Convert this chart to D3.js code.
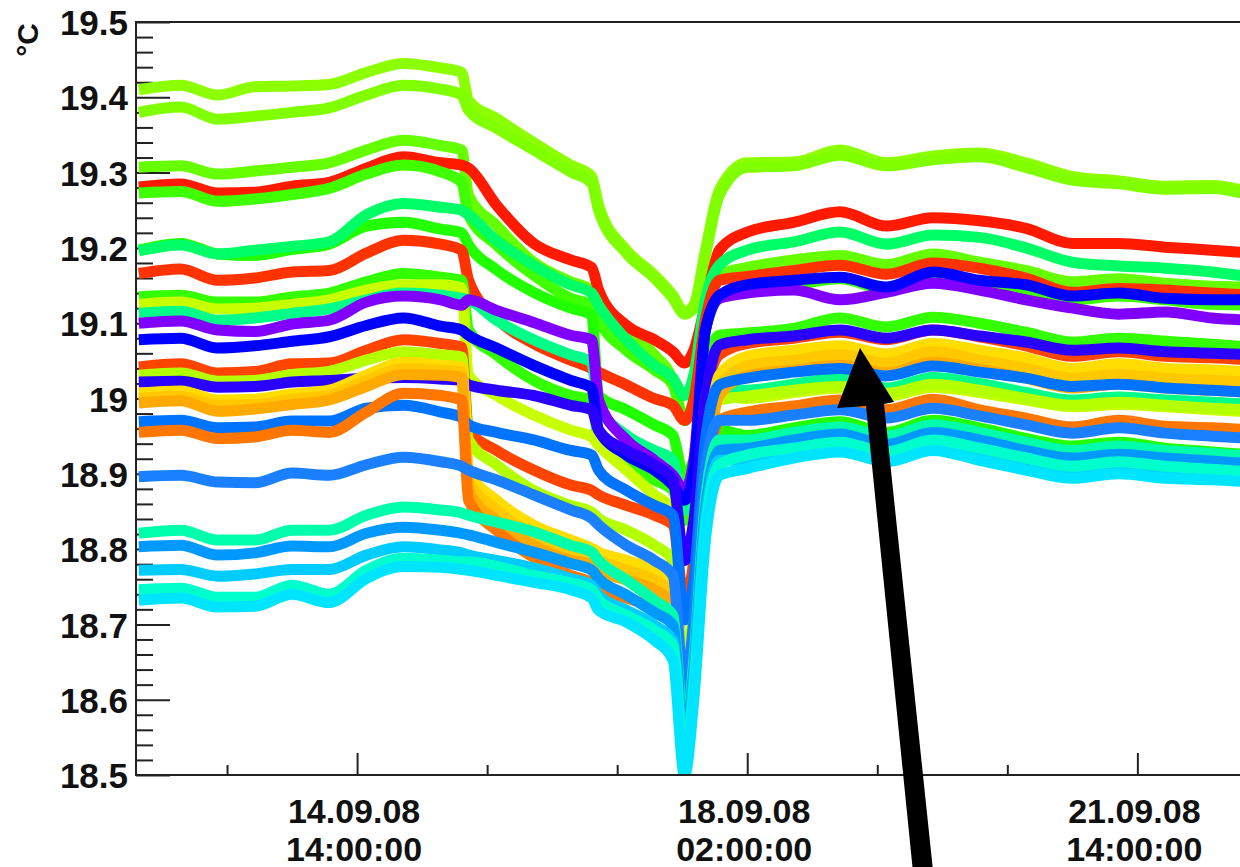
<!DOCTYPE html>
<html>
<head>
<meta charset="utf-8">
<script src="https://cdn.jsdelivr.net/npm/d3@7"></script>
<style>
body { margin: 0; background: #fff; }
svg { display: block; font-family: "Liberation Sans", Arial, sans-serif; font-weight: bold; }
</style>
</head>
<body>
<div id="chart"></div>
<script>
// hours after 14.09.08 14:00:00
var hours = [-47, -38, -30, -22, -14, -6, 2, 10, 18, 22.5,
    24, 30, 38, 46, 50.5, 52, 58, 64, 68, 70.5, 72.5, 75, 78,
    84, 94, 104, 114, 124, 134, 144, 154, 164, 174, 184, 193]

// temperature sensors, degrees C
var lime1 = [19.410,19.416,19.403,19.414,19.415,19.417,19.433,19.445,19.439,19.433, 19.396,19.372,19.340,19.310,19.295,19.257,19.197,19.164,19.137,19.115,19.124,19.197,19.277, 19.313,19.314,19.330,19.313,19.322,19.326,19.313,19.295,19.289,19.282,19.283,19.273]
var lime2 = [19.380,19.387,19.371,19.375,19.380,19.386,19.403,19.416,19.411,19.403, 19.383,19.359,19.330,19.301,19.286,19.250,19.193,19.160,19.133,19.112,19.120,19.190,19.270, 19.307,19.309,19.323,19.309,19.317,19.321,19.307,19.290,19.285,19.278,19.279,19.269]
var green66 = [19.307,19.309,19.298,19.302,19.307,19.313,19.330,19.343,19.336,19.330, 19.270,19.230,19.181,19.155,19.144,19.131,19.091,19.058,19.024,18.971,18.998,19.104,19.164, 19.174,19.184,19.190,19.178,19.192,19.181,19.170,19.155,19.159,19.153,19.149,19.148]
var red1 = [19.281,19.285,19.273,19.274,19.282,19.287,19.306,19.321,19.313,19.310, 19.306,19.257,19.206,19.184,19.174,19.144,19.097,19.078,19.062,19.047,19.064,19.124,19.197, 19.221,19.234,19.248,19.229,19.240,19.236,19.226,19.206,19.206,19.201,19.197,19.193]
var green44 = [19.273,19.275,19.262,19.265,19.271,19.279,19.298,19.310,19.301,19.287, 19.244,19.204,19.164,19.133,19.124,19.104,19.064,19.038,19.018,18.971,18.998,19.091,19.133, 19.144,19.151,19.159,19.145,19.160,19.151,19.144,19.131,19.136,19.131,19.125,19.124]
var green22 = [19.197,19.206,19.192,19.190,19.198,19.205,19.229,19.234,19.225,19.220, 19.204,19.171,19.141,19.120,19.111,19.004,18.985,18.965,18.951,18.892,18.918,18.945,18.958, 18.951,18.961,18.969,18.955,18.971,18.961,18.947,18.937,18.942,18.934,18.929,18.925]
var aqua66 = [19.196,19.204,19.192,19.197,19.202,19.208,19.244,19.259,19.254,19.250, 19.244,19.210,19.177,19.151,19.140,19.124,19.078,19.044,19.027,19.004,19.031,19.131,19.177, 19.197,19.208,19.221,19.205,19.217,19.214,19.200,19.181,19.176,19.173,19.168,19.161]
var red2 = [19.166,19.172,19.157,19.160,19.168,19.170,19.193,19.210,19.205,19.197, 19.157,19.107,19.073,19.051,19.040,19.035,19.018,19.000,18.991,18.971,18.998,19.104,19.157, 19.162,19.170,19.177,19.165,19.180,19.173,19.160,19.141,19.146,19.144,19.140,19.137]
var green33 = [19.135,19.137,19.128,19.128,19.135,19.140,19.155,19.166,19.161,19.157, 19.091,19.058,19.024,19.004,18.998,18.945,18.912,18.892,18.878,18.838,18.892,19.038,19.084, 19.087,19.093,19.107,19.095,19.108,19.100,19.088,19.075,19.080,19.076,19.072,19.068]
var yellowGreen1 = [19.125,19.128,19.119,19.120,19.125,19.131,19.144,19.151,19.151,19.147, 19.031,19.004,18.978,18.958,18.949,18.938,18.905,18.872,18.852,18.785,18.838,18.971,19.004, 19.000,19.008,19.014,19.003,19.015,19.008,18.998,18.989,18.992,18.989,18.985,18.982]
var aqua88 = [19.113,19.116,19.104,19.107,19.113,19.119,19.131,19.140,19.137,19.133, 19.131,19.104,19.078,19.058,19.048,18.991,18.951,18.931,18.918,18.852,18.905,18.985,19.011, 19.011,19.019,19.027,19.014,19.028,19.020,19.008,18.998,19.002,18.998,18.995,18.992]
var violet = [19.100,19.103,19.091,19.089,19.099,19.104,19.128,19.136,19.131,19.124, 19.131,19.117,19.101,19.084,19.078,18.998,18.945,18.918,18.898,18.878,18.918,19.091,19.133, 19.140,19.144,19.131,19.141,19.153,19.144,19.131,19.120,19.112,19.115,19.107,19.104]
var blue = [19.078,19.080,19.067,19.070,19.076,19.082,19.097,19.107,19.096,19.091, 19.084,19.067,19.044,19.024,19.014,18.958,18.925,18.905,18.885,18.865,18.905,19.091,19.137, 19.151,19.157,19.161,19.148,19.168,19.157,19.151,19.136,19.140,19.133,19.131,19.131]
var redOrange = [19.042,19.046,19.034,19.036,19.046,19.047,19.064,19.078,19.073,19.068, 18.958,18.931,18.905,18.885,18.878,18.872,18.858,18.845,18.832,18.732,18.785,18.998,19.058, 19.073,19.080,19.088,19.078,19.091,19.082,19.070,19.056,19.062,19.056,19.054,19.051]
var yellowGreen2 = [19.031,19.034,19.023,19.024,19.032,19.036,19.051,19.062,19.058,19.055, 18.945,18.912,18.878,18.858,18.849,18.841,18.825,18.805,18.785,18.653,18.719,18.945,18.998, 19.003,19.011,19.016,19.007,19.019,19.011,19.000,18.991,18.995,18.991,18.987,18.985]
var blueViolet = [19.022,19.023,19.015,19.016,19.022,19.024,19.027,19.028,19.026,19.024, 19.018,19.011,19.004,18.991,18.985,18.958,18.931,18.912,18.892,18.785,18.838,18.998,19.071, 19.078,19.083,19.091,19.080,19.091,19.083,19.075,19.064,19.067,19.062,19.060,19.058]
var yellow = [19.007,19.010,18.998,18.999,19.006,19.011,19.031,19.048,19.044,19.042, 18.905,18.865,18.832,18.812,18.801,18.796,18.785,18.772,18.752,18.573,18.679,18.905,19.031, 19.056,19.064,19.070,19.059,19.073,19.064,19.054,19.040,19.046,19.040,19.038,19.035]
var amber = [19.000,19.003,18.991,18.992,18.999,19.004,19.024,19.040,19.038,19.035, 18.892,18.852,18.819,18.799,18.789,18.785,18.772,18.759,18.739,18.560,18.666,18.892,19.018, 19.043,19.051,19.058,19.047,19.062,19.051,19.040,19.027,19.032,19.027,19.024,19.022]
var orangeYellow = [18.994,18.997,18.983,18.986,18.992,18.998,19.016,19.032,19.031,19.028, 18.878,18.838,18.805,18.785,18.779,18.772,18.759,18.746,18.726,18.546,18.653,18.878,19.004, 19.030,19.038,19.044,19.034,19.048,19.039,19.027,19.014,19.019,19.014,19.011,19.008]
var lightBlue1 = [18.969,18.971,18.961,18.962,18.970,18.970,18.987,18.991,18.982,18.975, 18.965,18.955,18.945,18.931,18.925,18.905,18.878,18.858,18.845,18.706,18.759,18.945,19.018, 19.027,19.035,19.040,19.030,19.043,19.035,19.027,19.016,19.019,19.014,19.011,19.008]
var orange = [18.955,18.958,18.947,18.949,18.958,18.955,18.982,19.007,19.004,18.998, 18.865,18.825,18.789,18.765,18.755,18.748,18.735,18.722,18.706,18.533,18.626,18.865,18.971, 18.982,18.990,18.998,18.985,18.999,18.985,18.974,18.962,18.971,18.963,18.961,18.958]
var lightBlue2 = [18.896,18.898,18.889,18.888,18.901,18.898,18.912,18.922,18.916,18.910, 18.905,18.892,18.872,18.852,18.841,18.832,18.805,18.785,18.765,18.613,18.706,18.905,18.971, 18.971,18.978,18.985,18.974,18.987,18.977,18.965,18.954,18.961,18.954,18.950,18.947]
var aquaAA = [18.821,18.825,18.812,18.812,18.825,18.825,18.845,18.856,18.852,18.848, 18.845,18.836,18.823,18.805,18.796,18.785,18.759,18.732,18.712,18.546,18.653,18.865,18.945, 18.945,18.955,18.962,18.950,18.965,18.955,18.942,18.931,18.937,18.931,18.927,18.923]
var blue99 = [18.803,18.805,18.792,18.795,18.804,18.803,18.821,18.829,18.825,18.821, 18.819,18.809,18.796,18.781,18.772,18.761,18.739,18.716,18.699,18.533,18.639,18.852,18.931, 18.934,18.945,18.953,18.939,18.955,18.945,18.931,18.921,18.926,18.921,18.917,18.913]
var cyanCC = [18.772,18.773,18.764,18.767,18.773,18.773,18.792,18.803,18.799,18.795, 18.792,18.785,18.775,18.761,18.752,18.739,18.719,18.699,18.679,18.520,18.626,18.838,18.918, 18.918,18.929,18.937,18.923,18.939,18.929,18.916,18.905,18.910,18.905,18.901,18.897]
var aquaCC = [18.746,18.748,18.736,18.736,18.752,18.740,18.772,18.788,18.785,18.783, 18.783,18.777,18.765,18.755,18.746,18.732,18.712,18.692,18.672,18.513,18.613,18.825,18.912, 18.925,18.934,18.942,18.929,18.945,18.934,18.921,18.910,18.916,18.910,18.906,18.902]
var cyanE5 = [18.732,18.735,18.723,18.724,18.740,18.729,18.761,18.777,18.776,18.773, 18.772,18.765,18.756,18.746,18.735,18.719,18.703,18.679,18.653,18.500,18.600,18.812,18.898, 18.907,18.921,18.929,18.916,18.931,18.918,18.905,18.894,18.900,18.894,18.892,18.889]

var series = [
    { values: lime1, color: "#8cff00" },
    { values: lime2, color: "#80ff00" },
    { values: green66, color: "#66ff00" },
    { values: red1, color: "#ff1a00" },
    { values: green44, color: "#40ff00" },
    { values: green22, color: "#22ff00" },
    { values: aqua66, color: "#00ff66" },
    { values: red2, color: "#ff3300" },
    { values: green33, color: "#33ff00" },
    { values: yellowGreen1, color: "#c8ff00" },
    { values: aqua88, color: "#00ff88" },
    { values: violet, color: "#8000ff" },
    { values: blue, color: "#0000ff" },
    { values: redOrange, color: "#ff4400" },
    { values: yellowGreen2, color: "#b4ff00" },
    { values: blueViolet, color: "#2a00ff" },
    { values: yellow, color: "#ffdd00" },
    { values: amber, color: "#ffc800" },
    { values: orangeYellow, color: "#ffaa00" },
    { values: lightBlue1, color: "#0073ff" },
    { values: orange, color: "#ff7700" },
    { values: lightBlue2, color: "#1a80ff" },
    { values: aquaAA, color: "#00ffaa" },
    { values: blue99, color: "#0099ff" },
    { values: cyanCC, color: "#00ccff" },
    { values: aquaCC, color: "#00ffcc" },
    { values: cyanE5, color: "#00e5ff" }
]

var yMajor = [18.5, 18.6, 18.7, 18.8, 18.9, 19, 19.1, 19.2, 19.3, 19.4, 19.5]
var yTickLabels = ["18.5", "18.6", "18.7", "18.8", "18.9", "19", "19.1", "19.2", "19.3", "19.4", "19.5"]
var xMajorTimes = ["2008-09-14T14:00:00", "2008-09-18T02:00:00", "2008-09-21T14:00:00"]
var xMinorTimes = ["2008-09-13T10:00:00", "2008-09-15T18:00:00", "2008-09-16T22:00:00", "2008-09-19T06:00:00", "2008-09-20T10:00:00"]
var xTickLabels = [["14.09.08", "14:00:00"], ["18.09.08", "02:00:00"], ["21.09.08", "14:00:00"]]
var yTitle = "°C"

var width = 1240, height = 867
var plotLeft = 136, plotTop = 22, plotBottom = 775, plotRight = 1260

var base = new Date("2008-09-14T14:00:00").getTime()
var toDate = function (h) { return new Date(base + h * 3600e3) }

var x = d3.scaleTime()
    .domain([new Date("2008-09-12T14:24:00"), new Date("2008-09-22T16:24:00")])
    .range([plotLeft, plotRight])
var y = d3.scaleLinear()
    .domain([18.5, 19.5])
    .range([plotBottom, plotTop])

var svg = d3.select("#chart").append("svg")
    .attr("width", width)
    .attr("height", height)

svg.append("defs").append("clipPath").attr("id", "plot")
    .append("rect").attr("x", plotLeft).attr("y", plotTop)
    .attr("width", plotRight - plotLeft).attr("height", plotBottom - plotTop)

// y minor ticks
var yMinor = []
for (var i = 0; i < 50; i++) {
    if (i % 5 != 0) yMinor.push(18.5 + i * 0.02)
}
svg.append("g")
    .attr("transform", "translate(" + plotLeft + ",0)")
    .call(d3.axisLeft(y).tickValues(yMinor).tickSize(-17).tickFormat(""))
svg.append("g")
    .attr("class", "yaxis")
    .attr("transform", "translate(" + plotLeft + ",0)")
    .call(d3.axisLeft(y).tickValues(yMajor).tickSize(-34).tickPadding(8)
        .tickFormat(function (d, i) { return yTickLabels[i] }))

// x ticks point up into the frame
svg.append("g")
    .attr("transform", "translate(0," + plotBottom + ")")
    .call(d3.axisBottom(x).tickValues(xMinorTimes.map(function (d) { return new Date(d) }))
        .tickSize(-10).tickFormat(""))
svg.append("g")
    .attr("transform", "translate(0," + plotBottom + ")")
    .call(d3.axisBottom(x).tickValues(xMajorTimes.map(function (d) { return new Date(d) }))
        .tickSize(-22).tickFormat(""))

svg.selectAll(".domain").remove()
svg.selectAll(".tick line").attr("stroke", "#222").attr("stroke-width", 2)
svg.selectAll(".yaxis text")
    .attr("font-size", 35)
    .attr("font-weight", "bold")
    .attr("font-family", "Liberation Sans, Arial, sans-serif")
    .attr("fill", "#111")
    .attr("dy", "0.36em")

// two-line date labels, one text per line
xMajorTimes.forEach(function (d, i) {
    var cx = x(new Date(d)) - 3
    svg.append("text")
        .attr("text-anchor", "middle")
        .attr("font-size", 34)
        .attr("fill", "#111")
        .attr("x", cx).attr("y", 823)
        .text(xTickLabels[i][0])
    svg.append("text")
        .attr("text-anchor", "middle")
        .attr("font-size", 34)
        .attr("fill", "#111")
        .attr("x", cx).attr("y", 861)
        .text(xTickLabels[i][1])
})

svg.append("text")
    .attr("transform", "translate(38," + (plotTop + 1) + ") rotate(-90)")
    .attr("text-anchor", "end")
    .attr("font-size", 30)
    .attr("fill", "#111")
    .text(yTitle)

// the sensor curves
var line = d3.line()
    .curve(d3.curveMonotoneX)
    .x(function (d, i) { return x(toDate(hours[i])) })
    .y(function (d) { return y(d) })

svg.append("g")
    .attr("clip-path", "url(#plot)")
    .selectAll("path")
    .data(series)
    .enter().append("path")
    .attr("d", function (d) { return line(d.values) })
    .attr("fill", "none")
    .attr("stroke", function (d) { return d.color })
    .attr("stroke-width", 11)
    .attr("stroke-linejoin", "round")

// frame
svg.append("path")
    .attr("d", "M" + plotRight + "," + plotTop + "H" + plotLeft + "V" + plotBottom + "H" + plotRight)
    .attr("fill", "none")
    .attr("stroke", "#222")
    .attr("stroke-width", 2)

// annotation arrow
svg.append("polygon")
    .attr("points", "860,348 894,402 884,404 934,880 914,882 866,406 837,408")
    .attr("fill", "#000")
</script>
</body>
</html>
